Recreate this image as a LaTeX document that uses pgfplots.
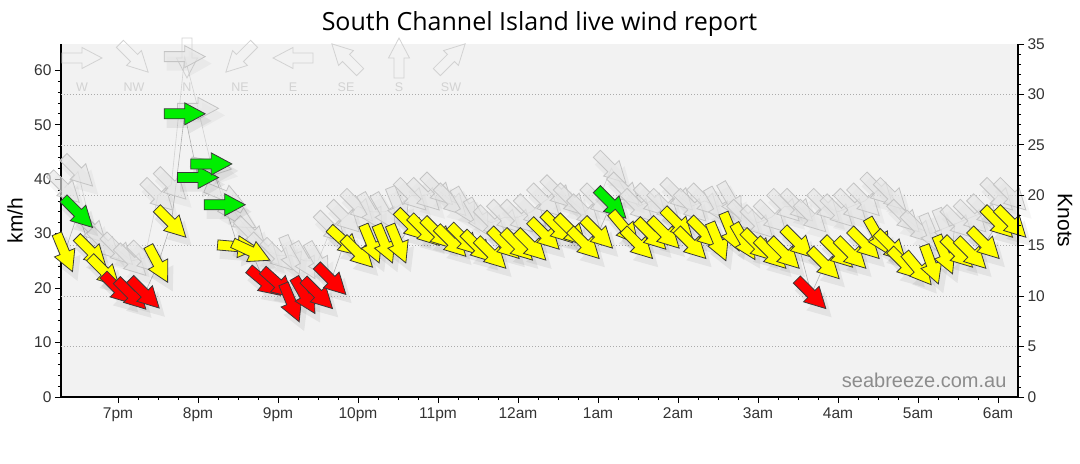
\documentclass[border=0pt]{standalone}
\usepackage{fontspec}
\setmainfont{Liberation Sans}
\newfontfamily\titlefont{Open Sans}
\usepackage{pgfplots}
\usepackage{pgfplotstable}
\pgfplotsset{compat=1.18}
\definecolor{bgray}{HTML}{F2F2F2}
\definecolor{tickc}{HTML}{333333}
\definecolor{wred}{HTML}{FF0000}
\definecolor{wyel}{HTML}{FFFF00}
\definecolor{wgrn}{HTML}{00EE00}
\definecolor{edge}{HTML}{3A3A3A}
\definecolor{gfill}{HTML}{E6E6E6}
\definecolor{gedge}{HTML}{C4C4C4}
\definecolor{legc}{HTML}{D2D2D2}
\definecolor{wmark}{HTML}{8C8C8C}
\definecolor{gridc}{HTML}{ABABAB}

\pgfdeclareplotmark{windarrow}{%
  \pgfpathmoveto{\pgfpoint{-20.5bp}{5bp}}%
  \pgfpathlineto{\pgfpoint{0bp}{5bp}}%
  \pgfpathlineto{\pgfpoint{0bp}{11bp}}%
  \pgfpathlineto{\pgfpoint{20.5bp}{0bp}}%
  \pgfpathlineto{\pgfpoint{0bp}{-11bp}}%
  \pgfpathlineto{\pgfpoint{0bp}{-5bp}}%
  \pgfpathlineto{\pgfpoint{-20.5bp}{-5bp}}%
  \pgfpathclose
  \pgfusepathqfillstroke}
\pgfdeclareplotmark{windarrowo}{%
  \pgfpathmoveto{\pgfpoint{-20bp}{5bp}}%
  \pgfpathlineto{\pgfpoint{0bp}{5bp}}%
  \pgfpathlineto{\pgfpoint{0bp}{10.5bp}}%
  \pgfpathlineto{\pgfpoint{20bp}{0bp}}%
  \pgfpathlineto{\pgfpoint{0bp}{-10.5bp}}%
  \pgfpathlineto{\pgfpoint{0bp}{-5bp}}%
  \pgfpathlineto{\pgfpoint{-20bp}{-5bp}}%
  \pgfpathclose
  \pgfusepathqstroke}
\pgfdeclareplotmark{windshadow}{%
  \pgfpathmoveto{\pgfpoint{-22bp}{7bp}}%
  \pgfpathlineto{\pgfpoint{0bp}{7bp}}%
  \pgfpathlineto{\pgfpoint{0bp}{13bp}}%
  \pgfpathlineto{\pgfpoint{23bp}{0bp}}%
  \pgfpathlineto{\pgfpoint{0bp}{-13bp}}%
  \pgfpathlineto{\pgfpoint{0bp}{-7bp}}%
  \pgfpathlineto{\pgfpoint{-22bp}{-7bp}}%
  \pgfpathclose
  \pgfusepathqfill}

\pgfplotstableread{
t s sa c g ga
0.3333 26.5 -67.5 mid 38.4 -45
0.5000 33.8 -45 hi 41.4 -45
0.6667 26.7 -45 mid 31 -45
0.8333 23.0 -45 mid 28 -45
1.0000 19.8 -45 lo 27 -45
1.1667 18.8 -45 lo 25 -45
1.3333 19.0 -45 lo 25.5 -45
1.5000 24.4 -62 mid 37 -45
1.6667 32.0 -45 mid 39 -45
1.8333 52.0 0 hi 62.5 0
2.0000 40.3 0 hi 53 0
2.1667 42.8 0 hi 42.5 -10
2.3333 35.3 0 hi 37 -22.5
2.5000 27.6 -5 mid 33 -30
2.6667 26.7 -25 mid 30 -45
2.8333 21.1 -40 lo 27 -45
3.0000 20.8 -42 lo 26 -45
3.1667 17.3 -67.5 lo 26 -67.5
3.3333 18.6 -60 lo 25 -60
3.5000 18.9 -45 lo 25 -60
3.6667 21.5 -45 lo 31 -45
3.8333 28.5 -42 mid 33 -45
4.0000 26.5 -45 mid 35 -45
4.1667 28.1 -67.5 mid 34 -60
4.3333 28.1 -67.5 mid 34 -60
4.5000 28.1 -67.5 mid 35 -67.5
4.6667 31.5 -45 mid 37 -45
4.8333 30.5 -45 mid 37 -45
5.0000 30.0 -45 mid 38 -45
5.1667 28.5 -45 mid 36 -45
5.3333 28.8 -45 mid 35 -60
5.5000 27.5 -45 mid 33 -60
5.6667 26.3 -45 mid 32 -45
5.8333 28.1 -45 mid 33 -45
6.0000 27.8 -45 mid 33 -45
6.1667 27.8 -45 mid 34 -45
6.3333 29.8 -45 mid 36 -45
6.5000 31.0 -45 mid 37.5 -45
6.6667 30.5 -45 mid 36 -45
6.8333 28.1 -45 mid 34 -45
7.0000 30.0 -45 mid 36 -45
7.1667 35.5 -45 hi 42 -45
7.3333 31.0 -50 mid 38 -45
7.5000 28.1 -45 mid 35 -45
7.6667 29.8 -45 mid 36 -45
7.8333 30.0 -45 mid 35 -45
8.0000 31.8 -45 mid 37 -45
8.1667 28.1 -45 mid 35 -45
8.3333 30.1 -45 mid 36 -45
8.5000 28.5 -67.5 mid 35 -60
8.6667 30.3 -67.5 mid 36 -60
8.8333 28.5 -60 mid 33 -45
9.0000 27.8 -45 mid 32 -45
9.1667 26.3 -45 mid 33 -45
9.3333 26.3 -45 mid 35 -45
9.5000 28.3 -45 mid 35 -45
9.6667 18.9 -45 lo 33 -45
9.8333 24.4 -45 mid 35 -45
10.0000 26.5 -45 mid 34 -45
10.1667 26.3 -45 mid 35 -45
10.3333 28.1 -45 mid 36 -45
10.5000 29.5 -60 mid 38 -45
10.6667 27.6 -45 mid 37 -45
10.8333 24.4 -45 mid 33 -45
11.0000 23.5 -50 mid 31 -45
11.1667 24.3 -70 mid 30 -67.5
11.3333 26.1 -67.5 mid 31 -67.5
11.5000 26.5 -45 mid 32 -45
11.6667 26.3 -45 mid 33 -45
11.8333 28.1 -45 mid 34 -45
12.0000 32.0 -45 mid 37 -45
12.1667 32.0 -45 mid 37 -45
}\wind

\pgfplotstableread{
x y ang lab ly
0.5500 62.25 0 W 56.9
1.2000 62.25 -45 NW 56.9
1.8625 62.25 -90 N 56.9
2.5250 62.25 -135 NE 56.9
3.1875 62.25 180 E 56.9
3.8500 62.25 135 SE 56.9
4.5125 62.25 90 S 56.9
5.1625 62.25 45 SW 56.9
}\legtab

\begin{document}
\begin{tikzpicture}
\path[use as bounding box] (-61bp,-67bp) rectangle (1019bp,397bp);
\begin{axis}[
  at={(0,0)}, anchor=south west,
  scale only axis, width=957bp, height=353bp,
  xmin=0.2875, xmax=12.25, ymin=0, ymax=64.82,
  clip=false,
  axis background/.style={fill=bgray},
  axis x line*=bottom, axis y line*=left,
  axis line style={-, black, line width=1.2bp},
  tick align=outside,
  major tick length=6bp, minor tick length=3bp,
  tick style={black, line width=0.8bp},
  xtick={1,2,...,12},
  xticklabels={7pm,8pm,9pm,10pm,11pm,12am,1am,2am,3am,4am,5am,6am},
  minor x tick num=3,
  ytick={0,10,...,60},
  minor y tick num=4,
  extra y ticks={9.26,18.52,27.78,37.04,46.3,55.56},
  extra y tick labels={},
  extra y tick style={grid=major, major tick length=0pt, minor tick num=0},
  major grid style={draw=gridc, line width=0.7bp, dash pattern=on 1bp off 2bp},
  /pgf/number format/assume math mode=true,
  tick label style={font=\fontsize{15.5bp}{18bp}\selectfont, text=tickc},
  xticklabel style={yshift=-1.5bp},
  ylabel={km/h},
  ylabel style={at={(axis description cs:-0.048,0.5)}, anchor=center, font=\fontsize{21bp}{24bp}\selectfont, text=black},
  title={South Channel Island live wind report},
  title style={at={(axis description cs:0.5,1.040)}, anchor=center, font=\titlefont\fontsize{25bp}{30bp}\selectfont, text=black},
]
% compass legend
\addplot[scatter, only marks, mark=windarrowo, draw=legc, mark options={draw=legc, line width=0.8bp},
  visualization depends on={\thisrow{ang} \as \ang},
  scatter/@pre marker code/.code={\pgfscope\pgftransformrotate{\ang}},
  scatter/@post marker code/.code={\endpgfscope}]
  table[x=x, y=y] {\legtab};
\addplot[only marks, mark=none, nodes near coords, point meta=explicit symbolic,
  nodes near coords style={anchor=center, font=\fontsize{12.5bp}{14bp}\selectfont, text=legc}]
  table[x=x, y=ly, meta=lab] {\legtab};
% gust shadows
\addplot[scatter, only marks, mark=windshadow, fill=black, draw=none, fill opacity=0.035,
  mark options={fill=black, draw=none, fill opacity=0.035},
  visualization depends on={\thisrow{ga} \as \ang},
  scatter/@pre marker code/.code={\pgfscope\pgftransformshift{\pgfpoint{4bp}{-7bp}}\pgftransformrotate{\ang}},
  scatter/@post marker code/.code={\endpgfscope}]
  table[x=t, y=g] {\wind};
% gust arrows
\addplot[scatter, only marks, mark=windarrow, fill=gfill, draw=gedge, fill opacity=0.65,
  mark options={fill=gfill, draw=gedge, fill opacity=0.65, line width=0.8bp},
  visualization depends on={\thisrow{ga} \as \ang},
  scatter/@pre marker code/.code={\pgfscope\pgftransformrotate{\ang}},
  scatter/@post marker code/.code={\endpgfscope}]
  table[x=t, y=g] {\wind};
% lines
\addplot[draw=gray!35, line width=0.6bp, mark=none] table[x=t, y=g] {\wind};
\addplot[draw=gray!60, line width=0.6bp, mark=none] table[x=t, y=s] {\wind};
% speed shadows
\addplot[scatter, only marks, mark=windshadow, fill=black, draw=none, fill opacity=0.06,
  mark options={fill=black, draw=none, fill opacity=0.06},
  visualization depends on={\thisrow{sa} \as \ang},
  scatter/@pre marker code/.code={\pgfscope\pgftransformshift{\pgfpoint{4bp}{-7bp}}\pgftransformrotate{\ang}},
  scatter/@post marker code/.code={\endpgfscope}]
  table[x=t, y=s] {\wind};
% speed arrows
\addplot[scatter, only marks, mark=windarrow,
  point meta=explicit symbolic,
  scatter/classes={lo={mark=windarrow, fill=wred, draw=edge, line width=0.8bp},
                   mid={mark=windarrow, fill=wyel, draw=edge, line width=0.8bp},
                   hi={mark=windarrow, fill=wgrn, draw=edge, line width=0.8bp}},
  visualization depends on={\thisrow{sa} \as \ang},
  scatter/@pre marker code/.append code={\pgftransformrotate{\ang}}]
  table[x=t, y=s, meta=c] {\wind};
\node[anchor=base east, font=\fontsize{20bp}{24bp}\selectfont, text=wmark] at (rel axis cs:0.9916,0.0283) {seabreeze.com.au};
\end{axis}
\begin{axis}[
  at={(0,0)}, anchor=south west,
  scale only axis, width=957bp, height=353bp,
  xmin=0.2875, xmax=12.25, ymin=0, ymax=35,
  axis x line=none, axis y line*=right,
  axis line style={-, black, line width=1.2bp},
  tick align=outside,
  major tick length=6bp, minor tick length=3bp,
  tick style={black, line width=0.8bp},
  ytick={0,5,...,35},
  minor y tick num=4,
  /pgf/number format/assume math mode=true,
  tick label style={font=\fontsize{15.5bp}{18bp}\selectfont, text=tickc},
  ylabel={Knots},
  ylabel style={at={(axis description cs:1.049,0.5)}, anchor=center, rotate=180, font=\fontsize{21bp}{24bp}\selectfont, text=black},
]
\end{axis}
\end{tikzpicture}
\end{document}
